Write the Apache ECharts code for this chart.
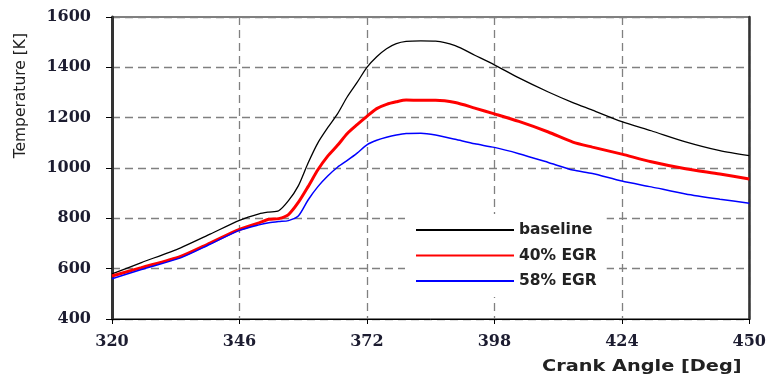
<!DOCTYPE html>
<html>
<head>
<meta charset="utf-8">
<script src="https://cdn.jsdelivr.net/npm/echarts@6/dist/echarts.min.js"></script>
<style>html,body{margin:0;padding:0;background:#fff;}#c{width:769px;height:379px;}</style>
</head>
<body>
<div id="c"></div>
<script>
const angles = [320, 326, 334, 340, 346, 350, 352, 354, 356, 358, 360, 362, 364, 366, 368, 370, 372, 374, 376, 378, 380, 383, 386, 390, 394, 398, 403, 409, 414, 418, 424, 430, 437, 444, 450];
const baseline = [579, 624, 683, 737, 792, 818, 825, 830, 870, 929, 1020, 1100, 1160, 1215, 1283, 1340, 1400, 1442, 1474, 1494, 1503, 1505, 1504, 1486, 1448, 1410, 1358, 1302, 1260, 1230, 1184, 1148, 1104, 1069, 1049];
const egr40 = [571, 604, 649, 702, 756, 782, 796, 799, 815, 863, 926, 993, 1047, 1090, 1137, 1172, 1205, 1236, 1253, 1263, 1270, 1269, 1269, 1260, 1238, 1215, 1185, 1143, 1103, 1083, 1055, 1025, 997, 976, 956];
const egr58 = [560, 597, 643, 697, 752, 774, 782, 787, 791, 809, 873, 926, 968, 1003, 1030, 1059, 1092, 1110, 1122, 1131, 1137, 1138, 1131, 1114, 1096, 1082, 1057, 1022, 992, 978, 948, 925, 897, 876, 860];
const seriesNames = ['baseline', '40% EGR', '58% EGR'];
const xTicks = [320, 346, 372, 398, 424, 450];
const yTicks = [400, 600, 800, 1000, 1200, 1400, 1600];

const pair = (ys) => angles.map((a, i) => [a, ys[i]]);
const tickFont = {fontFamily: 'DejaVu Serif', fontWeight: 'bold', fontSize: 16, color: '#1c1c30', formatter: (v) => String(v)};
const dash = {color: '#808080', width: 1.3, type: [8, 5]};

const chart = echarts.init(document.getElementById('c'), null, {renderer: 'canvas'});
chart.setOption({
  animation: false,
  backgroundColor: '#fff',
  grid: {left: 112, right: 19, top: 17, bottom: 60, show: true, borderColor: '#000', borderWidth: 1},
  xAxis: {
    type: 'value', min: xTicks[0], max: xTicks[xTicks.length - 1], interval: 26,
    axisLine: {show: true, lineStyle: {color: '#000', width: 1}},
    axisTick: {show: true, length: 5, lineStyle: {color: '#000'}},
    axisLabel: Object.assign({margin: 15}, tickFont),
    splitLine: {show: true, lineStyle: dash}
  },
  yAxis: [{
    type: 'value', min: yTicks[0], max: yTicks[yTicks.length - 1], interval: 200,
    axisLine: {show: true, lineStyle: {color: '#333', width: 3}},
    axisTick: {show: true, length: 6, lineStyle: {color: '#000'}},
    axisLabel: Object.assign({margin: 21}, tickFont),
    splitLine: {show: true, lineStyle: dash}
  }, {
    type: 'value', position: 'right', min: 400, max: 1600, interval: 200,
    axisLine: {show: true, lineStyle: {color: '#333', width: 2.5}},
    axisTick: {show: false}, axisLabel: {show: false}, splitLine: {show: false}
  }],
  legend: {
    orient: 'vertical', left: 405, top: 214, padding: [8, 10],
    backgroundColor: '#fff', itemWidth: 98, itemHeight: 14, itemGap: 9.5,
    itemStyle: {opacity: 0},
    textStyle: {fontFamily: 'DejaVu Sans', fontWeight: 'bold', fontSize: 15.5, color: '#222'},
    data: seriesNames
  },
  series: [
    {name: seriesNames[0], type: 'line', data: pair(baseline), symbol: 'none', smooth: 0.25, lineStyle: {color: '#000', width: 1.3}, itemStyle: {color: '#000'}},
    {name: seriesNames[1], type: 'line', data: pair(egr40), symbol: 'none', smooth: 0.25, lineStyle: {color: '#ff0000', width: 3}, itemStyle: {color: '#ff0000'}},
    {name: seriesNames[2], type: 'line', data: pair(egr58), symbol: 'none', smooth: 0.25, lineStyle: {color: '#0000ff', width: 1.5}, itemStyle: {color: '#0000ff'}}
  ],
  graphic: [
    {type: 'text', left: 13, top: 33, rotation: Math.PI / 2, style: {text: 'Temperature [K]', font: '15.5px "DejaVu Sans"', fill: '#222'}},
    {type: 'text', x: 542, y: 358, scaleX: 1.17, style: {text: 'Crank Angle [Deg]', font: 'bold 16.5px "DejaVu Sans"', fill: '#222', verticalAlign: 'top'}}
  ]
});
</script>
</body>
</html>
